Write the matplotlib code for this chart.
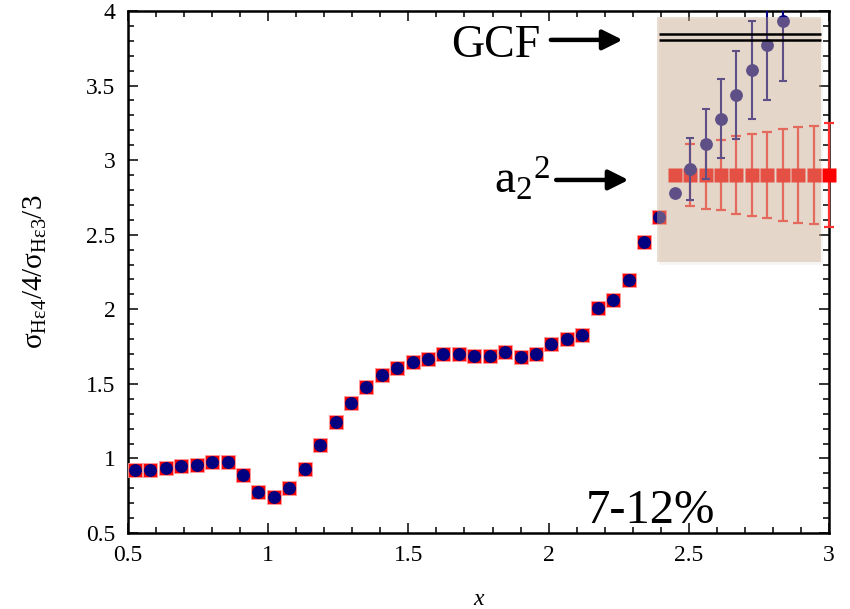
import numpy as np
import matplotlib
matplotlib.use('Agg')
import matplotlib.pyplot as plt
from matplotlib.patches import Rectangle
from matplotlib.ticker import MultipleLocator

plt.rcParams['font.family'] = ['Liberation Serif', 'DejaVu Serif']
plt.rcParams['mathtext.fontset'] = 'custom'
plt.rcParams['mathtext.rm'] = 'Liberation Serif'
plt.rcParams['mathtext.it'] = 'Liberation Serif:italic'

# measured ratio (red squares + navy dots)
x_meas = [0.525, 0.58, 0.635, 0.69, 0.745, 0.8, 0.855, 0.91, 0.965, 1.02,
          1.075, 1.13, 1.185, 1.24, 1.295, 1.35, 1.405, 1.46, 1.515, 1.57,
          1.625, 1.68, 1.735, 1.79, 1.845, 1.9, 1.955, 2.01, 2.065, 2.12,
          2.175, 2.23, 2.285, 2.34, 2.395]
y_meas = [0.921, 0.921, 0.935, 0.948, 0.955, 0.975, 0.975, 0.888, 0.774, 0.741,
          0.801, 0.928, 1.089, 1.243, 1.371, 1.478, 1.559, 1.606, 1.646, 1.666,
          1.70, 1.70, 1.686, 1.686, 1.713, 1.68, 1.70, 1.767, 1.80, 1.827,
          2.008, 2.062, 2.196, 2.45, 2.618]

# high-x points with errors
x_hi = [2.45, 2.505, 2.56, 2.615, 2.67, 2.725, 2.78, 2.835]
y_hi = [2.779, 2.94, 3.108, 3.276, 3.437, 3.604, 3.772, 3.933]
err_hi = [0.0, 0.21, 0.235, 0.265, 0.295, 0.33, 0.37, 0.40]

# a2^2 band
x_a2 = [2.45, 2.505, 2.56, 2.615, 2.67, 2.725, 2.78, 2.835, 2.89, 2.945, 3.0]
y_a2 = [2.90] * 11
err_a2 = [0.0, 0.21, 0.23, 0.235, 0.26, 0.275, 0.29, 0.31, 0.32, 0.33, 0.35]

# GCF prediction
gcf_levels = [3.806, 3.844]

fig = plt.figure(figsize=(8.5, 6.09), dpi=100)
ax = fig.add_axes([0.1506, 0.1248, 0.8247, 0.8572])

ax.plot(x_meas, y_meas, 's', ms=10.2, mfc='#ff0000', mec='#ff9a9a', mew=0.6, zorder=3)
ax.plot(x_meas, y_meas, 'o', ms=8.2, color='#000080', zorder=4)

ax.errorbar(x_a2, y_a2, yerr=err_a2, fmt='s', ms=9.4, color='#ff0000', mec='none',
            ecolor='#ff3030', elinewidth=1.6, capsize=3.5, capthick=1.6,
            zorder=3, clip_on=False)
ax.errorbar(x_hi, y_hi, yerr=err_hi, fmt='o', ms=8.2, color='#000080',
            elinewidth=1.5, capsize=3.0, capthick=1.5, zorder=4)

# shaded region overlaid on the points (with a faint shadow edge)
ax.add_patch(Rectangle((2.393, 2.300), 0.584, 1.643, facecolor='#9a8a7a',
                       alpha=0.08, lw=0, zorder=4.7))
ax.add_patch(Rectangle((2.387, 2.317), 0.584, 1.643, facecolor=(204/255, 174/255, 146/255),
                       alpha=0.43, lw=0, zorder=5))
for g in gcf_levels:
    ax.plot([2.393, 2.971], [g, g], color='black', lw=1.8, zorder=6,
            solid_capstyle='butt')

arr = dict(arrowstyle='-|>,head_length=0.6,head_width=0.3', lw=3.2, color='black',
           mutation_scale=20, shrinkA=0, shrinkB=0)
ax.annotate('', xy=(2.264, 3.806), xytext=(2.008, 3.806), arrowprops=arr, zorder=7)
ax.annotate('', xy=(2.285, 2.867), xytext=(2.027, 2.867), arrowprops=arr, zorder=7)

ax.text(1.652, 3.693, 'GCF', fontsize=33, ha='left', va='baseline', zorder=7)
ax.text(1.806, 2.779, r'a$_\mathregular{2}$$^\mathregular{2}$', fontsize=34,
        ha='left', va='baseline', zorder=7)
ax.text(2.133, 0.566, '7-12%', fontsize=35, ha='left', va='baseline', zorder=7)

ax.set_xlim(0.5, 3.0)
ax.set_ylim(0.5, 4.0)
ax.xaxis.set_major_locator(MultipleLocator(0.5))
ax.xaxis.set_minor_locator(MultipleLocator(0.1))
ax.yaxis.set_major_locator(MultipleLocator(0.5))
ax.yaxis.set_minor_locator(MultipleLocator(0.1))
ax.xaxis.set_major_formatter(plt.FuncFormatter(lambda v, p: f'{v:g}'))
ax.yaxis.set_major_formatter(plt.FuncFormatter(lambda v, p: f'{v:g}'))
ax.tick_params(which='both', direction='in', top=True, right=True, labelsize=17,
               colors='black', width=1.1)
ax.tick_params(which='major', length=7, pad=9)
ax.tick_params(which='minor', length=4)
for s in ax.spines.values():
    s.set_linewidth(1.8)

ax.set_xlabel('x', fontsize=17, style='italic', labelpad=16)
ax.set_ylabel(r'$\mathregular{σ_{Hε4}/4/σ_{Hε3}/3}$', fontsize=21, labelpad=27)

fig.savefig('out.png', dpi=100, facecolor='white')
